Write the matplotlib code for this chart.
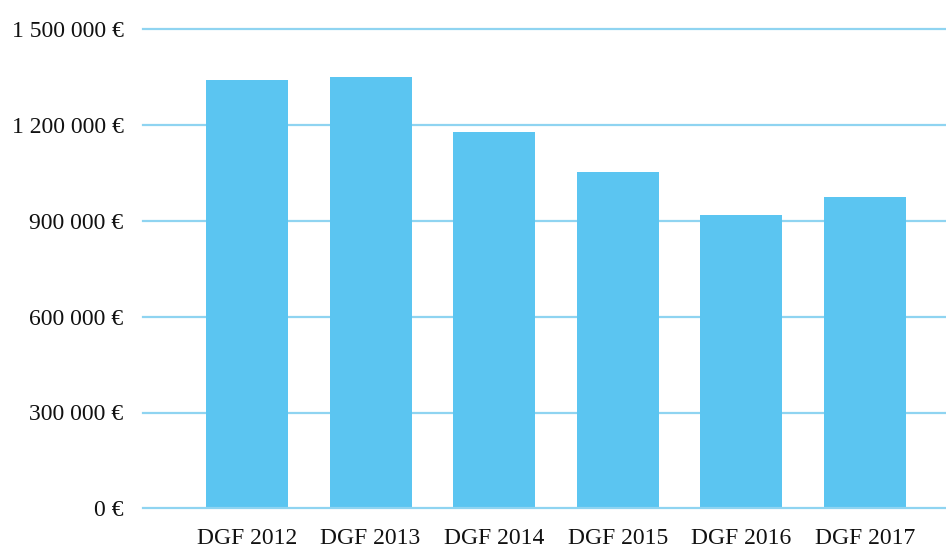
import matplotlib
matplotlib.use('Agg')
import matplotlib.pyplot as plt

# data
categories = ['DGF 2012', 'DGF 2013', 'DGF 2014', 'DGF 2015', 'DGF 2016', 'DGF 2017']
amounts = [1341000, 1351000, 1178000, 1053000, 918000, 975000]
y_ticks = [0, 300000, 600000, 900000, 1200000, 1500000]

bar_color = '#5bc5f1'
grid_color = '#8fd4f1'

plt.rcParams['font.family'] = ['Liberation Serif', 'DejaVu Serif']

fig = plt.figure(figsize=(9.46, 5.51), dpi=100)
ax = fig.add_axes([143 / 946, 42.7 / 551, 1 - 143 / 946, (508.3 - 29.3) / 551])

x = range(len(categories))
ax.bar(x, amounts, width=0.663, color=bar_color, zorder=2)

# horizontal grid lines, not clipped at the edges
for t in y_ticks:
    ax.axhline(t, color=grid_color, lw=1.6, clip_on=False,
               zorder=3 if t == 0 else 1)

ax.set_ylim(0, 1500000)
ax.set_xlim(-0.841, 5.656)

ax.set_yticks(y_ticks)
ax.set_yticklabels(['{:,} €'.format(v).replace(',', ' ') for v in y_ticks])
ax.set_xticks(list(x))
ax.set_xticklabels(categories)

ax.tick_params(axis='both', length=0, labelsize=17, colors='#111111')
ax.tick_params(axis='y', pad=14)
ax.tick_params(axis='x', pad=14)

for s in ax.spines.values():
    s.set_visible(False)

fig.savefig('out.png', dpi=100)
